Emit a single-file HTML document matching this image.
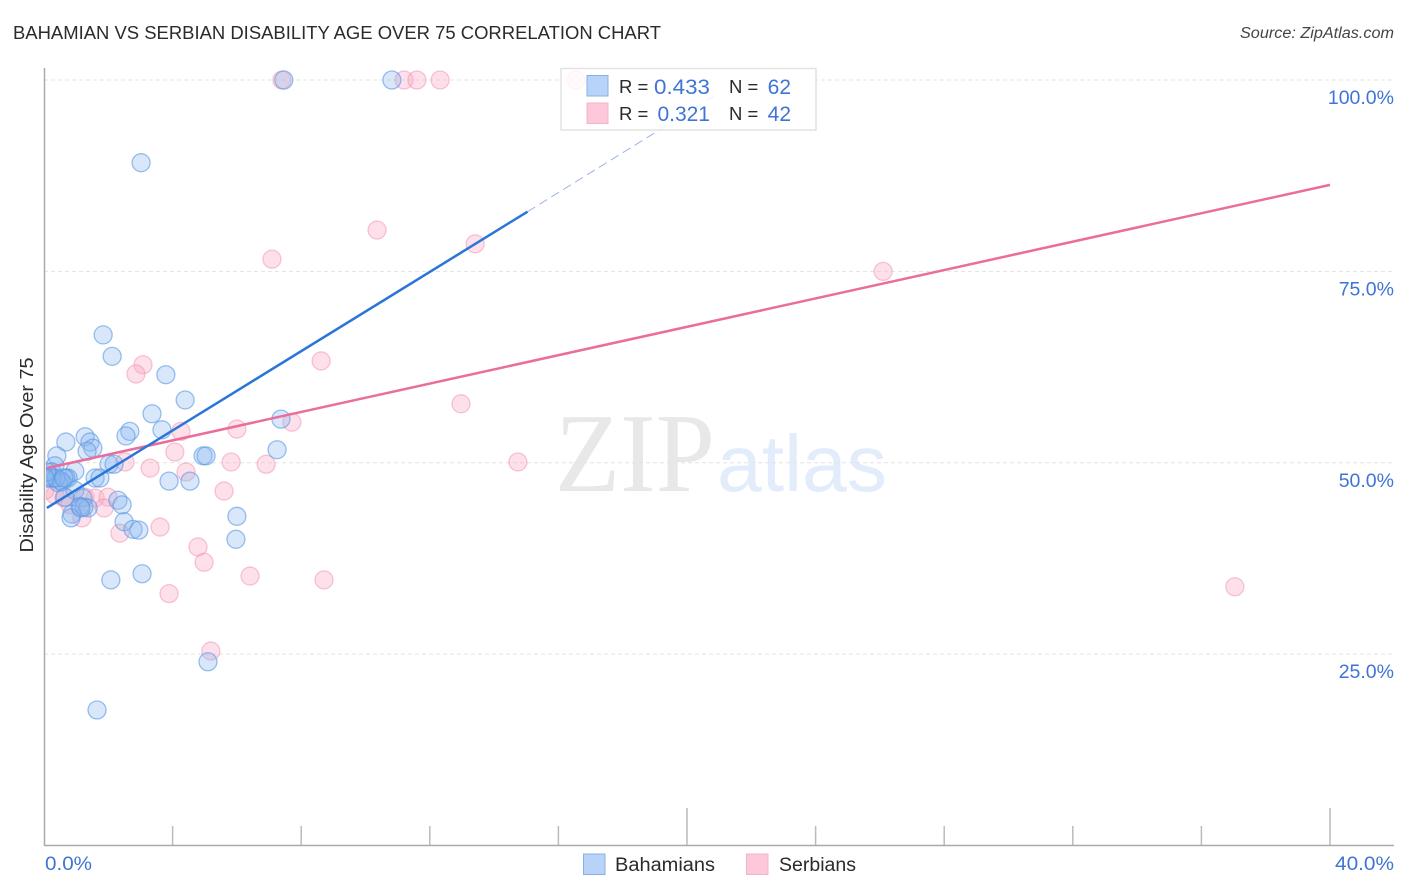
<!DOCTYPE html>
<html lang="en">
<head>
<meta charset="utf-8">
<title>Bahamian vs Serbian Disability Age Over 75 Correlation Chart</title>
<style>
html,body{margin:0;padding:0;background:#fff;}
svg{display:block;font-family:"Liberation Sans",sans-serif;}
</style>
</head>
<body>
<svg id="chart" width="1406" height="892" viewBox="0 0 1406 892" xmlns="http://www.w3.org/2000/svg">
  <defs>
    <clipPath id="plotClip"><rect x="46" y="60" width="1350" height="786"/></clipPath>
  </defs>
  <text x="13" y="39" font-size="18.5" fill="#2b2b2f" textLength="648" lengthAdjust="spacingAndGlyphs">BAHAMIAN VS SERBIAN DISABILITY AGE OVER 75 CORRELATION CHART</text>
  <text x="1394" y="38" font-size="15.5" font-style="italic" fill="#444" text-anchor="end" textLength="154" lengthAdjust="spacingAndGlyphs">Source: ZipAtlas.com</text>

  <g>
    <text x="555" y="491" font-family="'Liberation Serif',serif" font-size="112" fill="#e8e8e8" textLength="160" lengthAdjust="spacingAndGlyphs">ZIP</text>
    <text x="717" y="491" font-size="80" fill="#e2ecfa" textLength="170" lengthAdjust="spacingAndGlyphs">atlas</text>
  </g>

  <g id="grid"></g>
  <g id="xticks"></g>
  <line x1="44.5" y1="68" x2="44.5" y2="846" stroke="#aaa" stroke-width="1.5"/>
  <line x1="44" y1="845.5" x2="1394" y2="845.5" stroke="#aaa" stroke-width="1.5"/>
  <g id="ylabels"></g>
  <text x="45" y="870" font-size="19.5" fill="#3f74d4" textLength="47" lengthAdjust="spacingAndGlyphs">0.0%</text>
  <text x="1335" y="870" font-size="19.5" fill="#3f74d4" textLength="59" lengthAdjust="spacingAndGlyphs">40.0%</text>
  <text transform="translate(33,455) rotate(-90)" font-size="18" fill="#2b2b2f" text-anchor="middle" textLength="195" lengthAdjust="spacingAndGlyphs">Disability Age Over 75</text>

  <g clip-path="url(#plotClip)">
    <g id="pinkPoints"></g>
    <g id="bluePoints"></g>
    <g id="trends"></g>
  </g>

  <g>
    <rect x="561" y="68.5" width="255" height="61.5" fill="#fff" fill-opacity="0.82" stroke="#e2e2e2" stroke-width="1.5"/>
    <rect x="587" y="75.5" width="21" height="20.5" fill="#b9d3f8" stroke="#85b0ea" stroke-width="1"/>
    <rect x="587" y="103" width="21" height="20.5" fill="#fcc8da" stroke="#f4b2c9" stroke-width="1"/>
    <text x="619" y="93" font-size="18.5" fill="#2b2b2f">R =</text>
    <text x="654" y="94" font-size="21" fill="#3f74d4" textLength="56" lengthAdjust="spacingAndGlyphs">0.433</text>
    <text x="729" y="93" font-size="18.5" fill="#2b2b2f">N =</text>
    <text x="791" y="94" font-size="21" fill="#3f74d4" text-anchor="end">62</text>
    <text x="619" y="120" font-size="18.5" fill="#2b2b2f">R =</text>
    <text x="710" y="121" font-size="21" fill="#3f74d4" text-anchor="end">0.321</text>
    <text x="729" y="120" font-size="18.5" fill="#2b2b2f">N =</text>
    <text x="791" y="121" font-size="21" fill="#3f74d4" text-anchor="end">42</text>
  </g>

  <g>
    <rect x="583.5" y="854" width="21.5" height="20.5" fill="#b9d3f8" stroke="#85b0ea" stroke-width="1"/>
    <text x="615" y="871" font-size="19" fill="#2b2b2f" textLength="100" lengthAdjust="spacingAndGlyphs">Bahamians</text>
    <rect x="746.5" y="854" width="21.5" height="20.5" fill="#fcc8da" stroke="#f4b2c9" stroke-width="1"/>
    <text x="779" y="871" font-size="19" fill="#2b2b2f" textLength="77" lengthAdjust="spacingAndGlyphs">Serbians</text>
  </g>
</svg>
<script>
// Chart data (values in percent)
const yTickValues = [100, 75, 50, 25];
const yTickLabels = ["100.0%", "75.0%", "50.0%", "25.0%"];
const xTickValues = [4, 8, 12, 16, 20, 24, 28, 32, 36, 40];
const xMajorTicks = [20, 40];

const bahamiansX = [3.02,7.46,10.82,1.84,2.12,3.79,4.39,3.36,7.37,3.67,2.67,2.55,1.28,0.68,1.43,1.52,1.34,7.25,4.95,5.04,0.40,2.02,2.18,0.34,0.96,0.25,3.89,4.54,1.59,1.74,0.75,0.68,0.50,0.19,0.12,0.44,0.56,0.96,1.21,0.65,2.30,2.43,1.12,1.37,1.24,0.87,0.84,6.00,2.49,2.77,2.95,5.97,3.05,2.08,5.10,1.65,0.25,0.37,0.09,0.62,1.15,0.03];
const bahamiansY = [89.2,100,100,66.7,63.9,61.5,58.2,56.4,55.7,54.3,54.1,53.5,53.4,52.7,52.7,51.9,51.5,51.7,50.9,50.9,50.9,49.8,49.8,49.6,48.9,48.8,47.6,47.6,48.0,48.0,48.0,48.0,47.7,48.3,48.0,47.4,47.5,46.4,45.4,45.5,45.1,44.5,44.3,44.1,44.2,43.3,42.8,43.0,42.3,41.3,41.2,40.0,35.5,34.7,24.0,17.7,48.0,48.0,48.8,48.0,44.1,48.0];

const serbiansX = [7.40,11.2,11.6,12.32,16.55,10.36,7.09,13.41,26.1,8.62,3.08,2.86,12.97,7.71,6.0,4.26,4.07,5.82,6.91,14.74,3.3,2.52,4.42,5.6,0.34,0.62,1.28,1.59,1.99,1.87,1.18,2.36,3.61,4.79,4.98,6.41,8.71,3.89,37.04,5.19,0.03,0.81];
const serbiansY = [100,100,100,100,100,80.4,76.6,78.6,75.0,63.3,62.8,61.6,57.7,55.3,54.4,54.1,51.4,50.1,49.8,50.1,49.3,50.1,48.8,46.3,45.8,45.4,45.5,45.4,45.5,44.1,42.8,40.8,41.6,39.0,37.0,35.2,34.7,32.9,33.8,25.4,46.4,44.5];

const bahamiansTrendX = [0.09, 15.04];
const bahamiansTrendY = [44.1, 82.8];
const bahamiansDashX = [15.04, 21.0];
const bahamiansDashY = [82.8, 98.3];
const serbiansTrendX = [0.09, 40];
const serbiansTrendY = [49.3, 86.3];

// Axis functions
function xScale(v) { return 44 + v * 32.15; }
function yScale(v) { return 845.5 - v * 7.655; }

const NS = "http://www.w3.org/2000/svg";
function make(tag, parentId, attrs) {
  const el = document.createElementNS(NS, tag);
  for (const k in attrs) el.setAttribute(k, attrs[k]);
  document.getElementById(parentId).appendChild(el);
  return el;
}

yTickValues.forEach(function (v, i) {
  const line = make("line", "grid", {x1: 44, x2: 1394, y1: yScale(v), y2: yScale(v), stroke: "#e3e3e3", "stroke-width": 1, "stroke-dasharray": "4 3"});
  
  
  const label = make("text", "ylabels", {x: 1394, y: yScale(v) + 24, "font-size": 19.5, fill: "#3f74d4", "text-anchor": "end"});
  label.textContent = yTickLabels[i];
  
  
});

xTickValues.forEach(function (v) {
  const top = xMajorTicks.indexOf(v) >= 0 ? 808 : 826;
  const tick = make("line", "xticks", {x1: xScale(v), x2: xScale(v), y1: top, y2: 845, stroke: "#bbb", "stroke-width": 1.5});
  
  
});

serbiansX.forEach(function (v, i) {
  const c = make("circle", "pinkPoints", {cx: xScale(v), cy: yScale(serbiansY[i]), r: 9, fill: "#f9a8c4", "fill-opacity": 0.36, stroke: "#f08fb0", "stroke-opacity": 0.5, "stroke-width": 1.3});
  
  
});

bahamiansX.forEach(function (v, i) {
  const c = make("circle", "bluePoints", {cx: xScale(v), cy: yScale(bahamiansY[i]), r: 9, fill: "#8ab6f0", "fill-opacity": 0.33, stroke: "#5a96e2", "stroke-opacity": 0.6, "stroke-width": 1.3});
  
  
});

const pinkTrend = make("line", "trends", {x1: xScale(serbiansTrendX[0]), y1: yScale(serbiansTrendY[0]), x2: xScale(serbiansTrendX[1]), y2: yScale(serbiansTrendY[1]), stroke: "#ea6d9c", "stroke-width": 2.5});



const blueTrend = make("line", "trends", {x1: xScale(bahamiansTrendX[0]), y1: yScale(bahamiansTrendY[0]), x2: xScale(bahamiansTrendX[1]), y2: yScale(bahamiansTrendY[1]), stroke: "#2a76d8", "stroke-width": 2.5});



const blueDash = make("line", "trends", {x1: xScale(bahamiansDashX[0]), y1: yScale(bahamiansDashY[0]), x2: xScale(bahamiansDashX[1]), y2: yScale(bahamiansDashY[1]), stroke: "#9db5e4", "stroke-width": 1, "stroke-dasharray": "9 5"});


</script>
</body>
</html>
